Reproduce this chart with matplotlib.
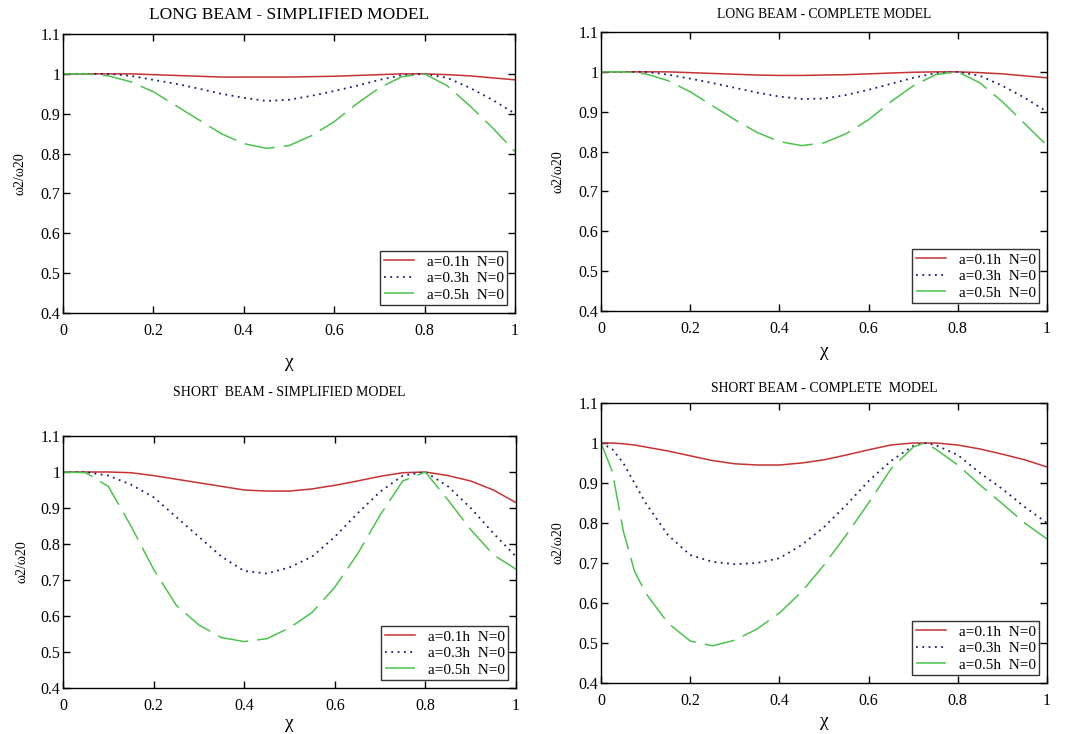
import matplotlib
matplotlib.use('Agg')
import matplotlib.pyplot as plt

plt.rcParams['font.family'] = ['Liberation Serif', 'DejaVu Serif']

# ---- data ----
# long beam, simplified model
x_ls = [0, 0.05, 0.1, 0.15, 0.2, 0.25, 0.3, 0.35, 0.4, 0.45, 0.5, 0.55, 0.6, 0.65, 0.7, 0.75, 0.8, 0.85, 0.9, 0.95, 1.0]
ls_01 = [1.0, 1.0, 1.0, 1.0, 0.998, 0.996, 0.994, 0.992, 0.992, 0.992, 0.992, 0.993, 0.994, 0.996, 0.998, 1.0, 1.0, 0.998, 0.995, 0.99, 0.985]
ls_03 = [1.0, 1.0, 1.0, 0.995, 0.985, 0.975, 0.963, 0.95, 0.94, 0.932, 0.935, 0.945, 0.957, 0.97, 0.985, 0.997, 1.0, 0.99, 0.965, 0.935, 0.9]
ls_05 = [1.0, 1.0, 0.995, 0.98, 0.955, 0.92, 0.885, 0.85, 0.825, 0.813, 0.82, 0.845, 0.88, 0.925, 0.965, 0.993, 1.0, 0.97, 0.92, 0.865, 0.805]

# long beam, complete model
x_lc = [0, 0.05, 0.1, 0.15, 0.2, 0.25, 0.3, 0.35, 0.4, 0.45, 0.5, 0.55, 0.6, 0.65, 0.7, 0.75, 0.8, 0.85, 0.9, 0.95, 1.0]
lc_01 = [1.0, 1.0, 1.0, 1.0, 0.998, 0.996, 0.994, 0.992, 0.991, 0.991, 0.992, 0.993, 0.995, 0.997, 0.999, 1.0, 1.0, 0.998, 0.995, 0.99, 0.985]
lc_03 = [1.0, 1.0, 1.0, 0.993, 0.983, 0.972, 0.96, 0.948, 0.938, 0.932, 0.933, 0.942, 0.955, 0.97, 0.985, 0.997, 1.0, 0.99, 0.965, 0.935, 0.9]
lc_05 = [1.0, 1.0, 0.995, 0.978, 0.95, 0.915, 0.88, 0.848, 0.825, 0.815, 0.822, 0.845, 0.88, 0.925, 0.965, 0.993, 1.0, 0.972, 0.925, 0.87, 0.815]

# short beam, simplified model
x_ss = [0, 0.05, 0.1, 0.15, 0.2, 0.25, 0.3, 0.35, 0.4, 0.45, 0.5, 0.55, 0.6, 0.65, 0.7, 0.75, 0.8, 0.85, 0.9, 0.95, 1.0]
ss_01 = [1.0, 1.0, 1.0, 0.998, 0.99, 0.98, 0.97, 0.96, 0.95, 0.947, 0.947, 0.953, 0.963, 0.975, 0.988, 0.998, 1.0, 0.99, 0.975, 0.95, 0.915]
ss_03 = [1.0, 1.0, 0.99, 0.965, 0.93, 0.875, 0.82, 0.765, 0.725, 0.718, 0.735, 0.765, 0.82, 0.885, 0.945, 0.99, 1.0, 0.96, 0.9, 0.83, 0.765]
ss_05 = [1.0, 0.998, 0.96, 0.85, 0.73, 0.63, 0.575, 0.54, 0.529, 0.537, 0.567, 0.61, 0.68, 0.772, 0.88, 0.975, 1.0, 0.922, 0.84, 0.77, 0.73]

# short beam, complete model
x_sc = [0, 0.025, 0.05, 0.075, 0.1, 0.15, 0.2, 0.25, 0.3, 0.35, 0.4, 0.45, 0.5, 0.55, 0.6, 0.65, 0.7, 0.725, 0.75, 0.8, 0.85, 0.9, 0.95, 1.0]
sc_01 = [1.0, 1.0, 0.998, 0.995, 0.99, 0.98, 0.968, 0.956, 0.948, 0.945, 0.945, 0.95, 0.958, 0.97, 0.983, 0.995, 1.0, 1.0, 1.0, 0.995, 0.985, 0.972, 0.958, 0.94]
sc_03 = [1.0, 0.985, 0.95, 0.9, 0.85, 0.77, 0.72, 0.703, 0.697, 0.7, 0.712, 0.745, 0.79, 0.845, 0.905, 0.955, 0.993, 1.0, 0.995, 0.97, 0.925, 0.885, 0.84, 0.8]
sc_05 = [1.0, 0.93, 0.78, 0.68, 0.625, 0.55, 0.505, 0.493, 0.507, 0.535, 0.575, 0.628, 0.695, 0.77, 0.85, 0.935, 0.99, 1.0, 0.985, 0.945, 0.895, 0.848, 0.8, 0.76]

labels = ['a=0.1h  N=0', 'a=0.3h  N=0', 'a=0.5h  N=0']
xticks = [0, 0.2, 0.4, 0.6, 0.8, 1]
xticklabels = ['0', '0.2', '0.4', '0.6', '0.8', '1']
yticks = [0.4, 0.5, 0.6, 0.7, 0.8, 0.9, 1.0, 1.1]
yticklabels = ['0.4', '0.5', '0.6', '0.7', '0.8', '0.9', '1', '1.1']

W, H = 1065, 734
fig = plt.figure(figsize=(W / 100, H / 100), dpi=100)


def px(x0, y0, x1, y1):
    return [x0 / W, 1 - y1 / H, (x1 - x0) / W, (y1 - y0) / H]


panels = [
    # box (px), title, title y, title size, ylabel x, xlabel y, data
    ((63, 34, 515, 313), 'LONG BEAM - SIMPLIFIED MODEL', 15, 12.5, 20, 362, x_ls, (ls_01, ls_03, ls_05)),
    ((601, 32, 1047, 311), 'LONG BEAM - COMPLETE MODEL', 15, 9.8, 558, 352, x_lc, (lc_01, lc_03, lc_05)),
    ((63, 436, 516, 688), 'SHORT  BEAM - SIMPLIFIED MODEL', 392, 10, 22, 723, x_ss, (ss_01, ss_03, ss_05)),
    ((601, 403, 1047, 683), 'SHORT BEAM - COMPLETE  MODEL', 388, 9.9, 558, 722, x_sc, (sc_01, sc_03, sc_05)),
]

for box, title, ty, tsize, ylx, xly, xs, ys in panels:
    ax = fig.add_axes(px(*box))
    ax.plot(xs, ys[0], color='#c83232', lw=1.1, ls='-', label=labels[0])
    ax.plot(xs, ys[1], color='#1c1c70', lw=1.3, ls=(0, (1, 2.5)), label=labels[1])
    ax.plot(xs, ys[2], color='#4cc44c', lw=1.1, ls=(0, (20, 6)), label=labels[2])
    ax.set_xlim(0, 1)
    ax.set_ylim(0.4, 1.1)
    ax.set_xticks(xticks)
    ax.set_xticklabels(xticklabels, fontsize=11.5)
    ax.set_yticks(yticks)
    ax.set_yticklabels(yticklabels, fontsize=11.5)
    ax.tick_params(direction='in', length=5, width=1, top=True, right=True)
    ax.tick_params(axis='x', pad=7)
    ax.tick_params(axis='y', pad=2)
    for s in ax.spines.values():
        s.set_linewidth(1)
    leg = ax.legend(loc='lower right', fontsize=11, frameon=True, fancybox=False,
                    edgecolor='black', handlelength=2.0, borderaxespad=0.5,
                    borderpad=0.25, labelspacing=0.18, handletextpad=0.8)
    leg.get_frame().set_linewidth(1)
    cx = (box[0] + box[2]) / 2
    fig.text(cx / W, 1 - ty / H, title, ha='center', va='center', fontsize=tsize)
    fig.text(ylx / W, 1 - ((box[1] + box[3]) / 2) / H, 'ω2/ω20', rotation=90,
             ha='center', va='center', fontsize=10)
    fig.text(cx / W, 1 - xly / H, 'χ', ha='center', va='center', fontsize=14)

fig.savefig('out.png', dpi=100, facecolor='white')
